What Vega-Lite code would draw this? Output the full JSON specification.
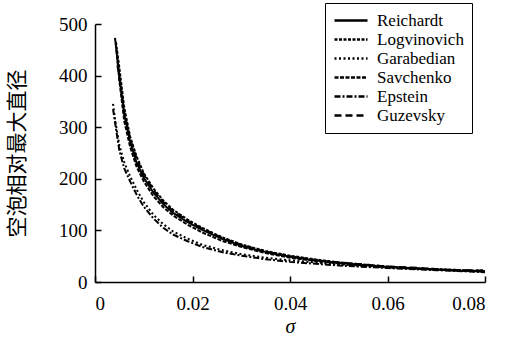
{
  "$schema": "https://vega.github.io/schema/vega-lite/v6.json",
  "width": 390,
  "height": 258,
  "autosize": {"type": "none"},
  "padding": {"left": 95, "top": 24, "right": 31, "bottom": 56},
  "background": "white",
  "config": {"view": {"stroke": null}, "font": "Liberation Serif"},
  "data": {"values": [
    {"model": "Reichardt", "sigma": 0.0041, "d": 473},
    {"model": "Reichardt", "sigma": 0.0045, "d": 440},
    {"model": "Reichardt", "sigma": 0.005, "d": 400},
    {"model": "Reichardt", "sigma": 0.006, "d": 325},
    {"model": "Reichardt", "sigma": 0.0072, "d": 272},
    {"model": "Reichardt", "sigma": 0.0085, "d": 232},
    {"model": "Reichardt", "sigma": 0.01, "d": 202},
    {"model": "Reichardt", "sigma": 0.012, "d": 173},
    {"model": "Reichardt", "sigma": 0.014, "d": 151},
    {"model": "Reichardt", "sigma": 0.016, "d": 134},
    {"model": "Reichardt", "sigma": 0.019, "d": 116},
    {"model": "Reichardt", "sigma": 0.022, "d": 101},
    {"model": "Reichardt", "sigma": 0.026, "d": 84},
    {"model": "Reichardt", "sigma": 0.03, "d": 70},
    {"model": "Reichardt", "sigma": 0.035, "d": 58},
    {"model": "Reichardt", "sigma": 0.04, "d": 49},
    {"model": "Reichardt", "sigma": 0.045, "d": 42},
    {"model": "Reichardt", "sigma": 0.05, "d": 37},
    {"model": "Reichardt", "sigma": 0.055, "d": 33},
    {"model": "Reichardt", "sigma": 0.06, "d": 29},
    {"model": "Reichardt", "sigma": 0.065, "d": 27},
    {"model": "Reichardt", "sigma": 0.07, "d": 24},
    {"model": "Reichardt", "sigma": 0.075, "d": 22},
    {"model": "Reichardt", "sigma": 0.08, "d": 21},
    {"model": "Logvinovich", "sigma": 0.0043, "d": 465},
    {"model": "Logvinovich", "sigma": 0.005, "d": 415},
    {"model": "Logvinovich", "sigma": 0.006, "d": 338},
    {"model": "Logvinovich", "sigma": 0.0072, "d": 282},
    {"model": "Logvinovich", "sigma": 0.0085, "d": 244},
    {"model": "Logvinovich", "sigma": 0.01, "d": 211},
    {"model": "Logvinovich", "sigma": 0.012, "d": 181},
    {"model": "Logvinovich", "sigma": 0.014, "d": 158},
    {"model": "Logvinovich", "sigma": 0.016, "d": 140},
    {"model": "Logvinovich", "sigma": 0.019, "d": 121},
    {"model": "Logvinovich", "sigma": 0.022, "d": 105},
    {"model": "Logvinovich", "sigma": 0.026, "d": 87},
    {"model": "Logvinovich", "sigma": 0.03, "d": 73},
    {"model": "Logvinovich", "sigma": 0.035, "d": 60},
    {"model": "Logvinovich", "sigma": 0.04, "d": 51},
    {"model": "Logvinovich", "sigma": 0.045, "d": 44},
    {"model": "Logvinovich", "sigma": 0.05, "d": 38},
    {"model": "Logvinovich", "sigma": 0.055, "d": 34},
    {"model": "Logvinovich", "sigma": 0.06, "d": 30},
    {"model": "Logvinovich", "sigma": 0.065, "d": 27},
    {"model": "Logvinovich", "sigma": 0.07, "d": 25},
    {"model": "Logvinovich", "sigma": 0.075, "d": 23},
    {"model": "Logvinovich", "sigma": 0.08, "d": 22},
    {"model": "Garabedian", "sigma": 0.0037, "d": 345},
    {"model": "Garabedian", "sigma": 0.0042, "d": 310},
    {"model": "Garabedian", "sigma": 0.005, "d": 265},
    {"model": "Garabedian", "sigma": 0.006, "d": 232},
    {"model": "Garabedian", "sigma": 0.0072, "d": 205},
    {"model": "Garabedian", "sigma": 0.0086, "d": 178},
    {"model": "Garabedian", "sigma": 0.01, "d": 155},
    {"model": "Garabedian", "sigma": 0.012, "d": 130},
    {"model": "Garabedian", "sigma": 0.014, "d": 112},
    {"model": "Garabedian", "sigma": 0.016, "d": 98},
    {"model": "Garabedian", "sigma": 0.019, "d": 84},
    {"model": "Garabedian", "sigma": 0.022, "d": 72},
    {"model": "Garabedian", "sigma": 0.026, "d": 62},
    {"model": "Garabedian", "sigma": 0.03, "d": 54},
    {"model": "Garabedian", "sigma": 0.035, "d": 47},
    {"model": "Garabedian", "sigma": 0.04, "d": 42},
    {"model": "Garabedian", "sigma": 0.05, "d": 34},
    {"model": "Garabedian", "sigma": 0.06, "d": 28},
    {"model": "Garabedian", "sigma": 0.07, "d": 24},
    {"model": "Garabedian", "sigma": 0.08, "d": 20},
    {"model": "Savchenko", "sigma": 0.0044, "d": 450},
    {"model": "Savchenko", "sigma": 0.005, "d": 390},
    {"model": "Savchenko", "sigma": 0.006, "d": 312},
    {"model": "Savchenko", "sigma": 0.0072, "d": 262},
    {"model": "Savchenko", "sigma": 0.0085, "d": 224},
    {"model": "Savchenko", "sigma": 0.01, "d": 195},
    {"model": "Savchenko", "sigma": 0.012, "d": 166},
    {"model": "Savchenko", "sigma": 0.014, "d": 145},
    {"model": "Savchenko", "sigma": 0.016, "d": 129},
    {"model": "Savchenko", "sigma": 0.019, "d": 111},
    {"model": "Savchenko", "sigma": 0.022, "d": 96},
    {"model": "Savchenko", "sigma": 0.026, "d": 80},
    {"model": "Savchenko", "sigma": 0.03, "d": 68},
    {"model": "Savchenko", "sigma": 0.035, "d": 56},
    {"model": "Savchenko", "sigma": 0.04, "d": 47},
    {"model": "Savchenko", "sigma": 0.045, "d": 41},
    {"model": "Savchenko", "sigma": 0.05, "d": 36},
    {"model": "Savchenko", "sigma": 0.055, "d": 32},
    {"model": "Savchenko", "sigma": 0.06, "d": 29},
    {"model": "Savchenko", "sigma": 0.065, "d": 26},
    {"model": "Savchenko", "sigma": 0.07, "d": 24},
    {"model": "Savchenko", "sigma": 0.075, "d": 22},
    {"model": "Savchenko", "sigma": 0.08, "d": 20},
    {"model": "Epstein", "sigma": 0.0037, "d": 335},
    {"model": "Epstein", "sigma": 0.0045, "d": 285},
    {"model": "Epstein", "sigma": 0.005, "d": 255},
    {"model": "Epstein", "sigma": 0.006, "d": 220},
    {"model": "Epstein", "sigma": 0.0072, "d": 195},
    {"model": "Epstein", "sigma": 0.0086, "d": 168},
    {"model": "Epstein", "sigma": 0.01, "d": 146},
    {"model": "Epstein", "sigma": 0.012, "d": 123},
    {"model": "Epstein", "sigma": 0.014, "d": 105},
    {"model": "Epstein", "sigma": 0.016, "d": 92},
    {"model": "Epstein", "sigma": 0.019, "d": 79},
    {"model": "Epstein", "sigma": 0.022, "d": 68},
    {"model": "Epstein", "sigma": 0.026, "d": 58},
    {"model": "Epstein", "sigma": 0.03, "d": 51},
    {"model": "Epstein", "sigma": 0.035, "d": 44},
    {"model": "Epstein", "sigma": 0.04, "d": 39},
    {"model": "Epstein", "sigma": 0.05, "d": 32},
    {"model": "Epstein", "sigma": 0.06, "d": 27},
    {"model": "Epstein", "sigma": 0.07, "d": 23},
    {"model": "Epstein", "sigma": 0.08, "d": 19},
    {"model": "Guzevsky", "sigma": 0.0046, "d": 420},
    {"model": "Guzevsky", "sigma": 0.005, "d": 395},
    {"model": "Guzevsky", "sigma": 0.006, "d": 330},
    {"model": "Guzevsky", "sigma": 0.0072, "d": 278},
    {"model": "Guzevsky", "sigma": 0.0085, "d": 240},
    {"model": "Guzevsky", "sigma": 0.01, "d": 208},
    {"model": "Guzevsky", "sigma": 0.012, "d": 178},
    {"model": "Guzevsky", "sigma": 0.014, "d": 155},
    {"model": "Guzevsky", "sigma": 0.016, "d": 138},
    {"model": "Guzevsky", "sigma": 0.019, "d": 119},
    {"model": "Guzevsky", "sigma": 0.022, "d": 103},
    {"model": "Guzevsky", "sigma": 0.026, "d": 86},
    {"model": "Guzevsky", "sigma": 0.03, "d": 72},
    {"model": "Guzevsky", "sigma": 0.035, "d": 59},
    {"model": "Guzevsky", "sigma": 0.04, "d": 50},
    {"model": "Guzevsky", "sigma": 0.045, "d": 43},
    {"model": "Guzevsky", "sigma": 0.05, "d": 38},
    {"model": "Guzevsky", "sigma": 0.055, "d": 34},
    {"model": "Guzevsky", "sigma": 0.06, "d": 30},
    {"model": "Guzevsky", "sigma": 0.065, "d": 28},
    {"model": "Guzevsky", "sigma": 0.07, "d": 25},
    {"model": "Guzevsky", "sigma": 0.075, "d": 23},
    {"model": "Guzevsky", "sigma": 0.08, "d": 22}
  ]},
  "mark": {"type": "line", "strokeWidth": 2, "color": "black", "clip": true},
  "encoding": {
    "x": {
      "field": "sigma", "type": "quantitative",
      "scale": {"domain": [0, 0.08], "nice": false},
      "axis": {
        "values": [0, 0.02, 0.04, 0.06, 0.08],
        "labelExpr": "datum.value == 0 ? '0' : format(datum.value, '.2f')",
        "grid": false, "ticks": true, "tickSize": -6, "tickColor": "black", "domainColor": "black",
        "domainWidth": 1.5, "tickWidth": 1.5,
        "labelFont": "Liberation Serif", "labelFontSize": 19, "labelColor": "black", "labelPadding": 18,
        "title": "σ", "titleFont": "Liberation Serif", "titleFontSize": 20, "titleFontStyle": "italic",
        "titleFontWeight": "normal", "titleColor": "black", "titlePadding": 3
      }
    },
    "y": {
      "field": "d", "type": "quantitative",
      "scale": {"domain": [0, 500], "nice": false},
      "axis": {
        "values": [0, 100, 200, 300, 400, 500],
        "grid": false, "ticks": true, "tickSize": -6, "tickColor": "black", "domainColor": "black",
        "domainWidth": 1.5, "tickWidth": 1.5,
        "labelFont": "Liberation Serif", "labelFontSize": 19, "labelColor": "black", "labelPadding": 14,
        "title": "空泡相对最大直径", "titleFont": "Noto Sans CJK SC", "titleFontSize": 21,
        "titleFontWeight": "normal", "titleColor": "black", "titlePadding": 31
      }
    },
    "strokeDash": {
      "field": "model", "type": "nominal",
      "scale": {
        "domain": ["Reichardt", "Logvinovich", "Garabedian", "Savchenko", "Epstein", "Guzevsky"],
        "range": [[1, 0], [3, 1.5], [2, 2.5], [4, 1.5], [6, 2, 2, 2], [7, 4]]
      },
      "legend": {
        "title": null, "orient": "none", "legendX": 230, "legendY": -21,
        "strokeColor": "black", "padding": 8, "symbolType": "stroke", "symbolSize": 1089,
        "symbolStrokeWidth": 2.5, "symbolStrokeColor": "black",
        "labelFont": "Liberation Serif", "labelFontSize": 17, "labelColor": "black",
        "labelOffset": 8, "rowPadding": 0, "clipHeight": 19, "symbolLimit": 0
      }
    }
  }
}
